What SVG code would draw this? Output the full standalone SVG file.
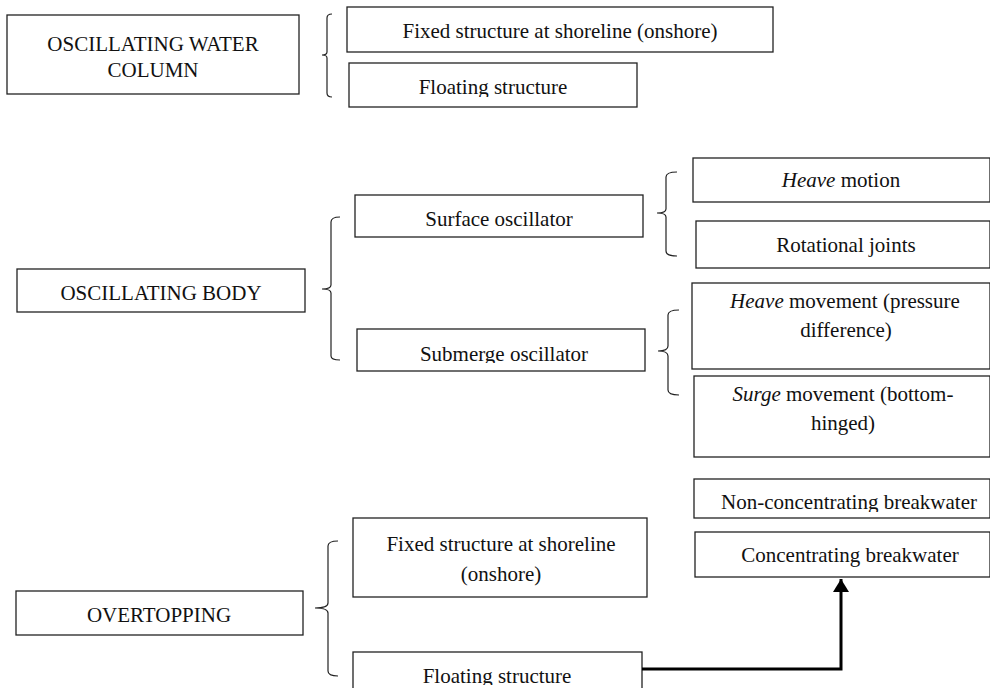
<svg xmlns="http://www.w3.org/2000/svg" width="990" height="688" viewBox="0 0 990 688">
<style>
.box{fill:#fff;stroke:#222;stroke-width:1.3}
.t{font-family:"Liberation Serif","Times New Roman",serif;font-size:21px;fill:#111;text-anchor:middle}
.brace{fill:none;stroke:#222;stroke-width:1.2}
.conn{fill:none;stroke:#000;stroke-width:3}
</style>
<defs>
<marker id="ah" markerUnits="userSpaceOnUse" markerWidth="16" markerHeight="16" refX="13" refY="8" orient="auto">
<path d="M0,0 L13,8 L0,16 Z" fill="#000"/>
</marker>
<clipPath id="c1"><rect x="349" y="63" width="288" height="34"/></clipPath>
<clipPath id="c2"><rect x="694" y="479" width="296" height="33"/></clipPath>
<clipPath id="c3"><rect x="357" y="329" width="288" height="34"/></clipPath>
<clipPath id="c4"><rect x="353" y="652" width="289" height="33"/></clipPath>
</defs>
<rect width="990" height="688" fill="#fff"/>

<g id="braces">
<path class="brace" d="M332,14 Q327,14 327,18 L327,52 Q327,55 322,55 Q327,55 327,58 L327,93 Q327,97 332,97"/>
<path class="brace" d="M340,217 Q331,217 331,222 L331,285 Q331,289 322,289 Q331,289 331,293 L331,356 Q331,360 340,360"/>
<path class="brace" d="M677,172 Q666,172 666,177 L666,209 Q666,213 657,213 Q666,213 666,217 L666,251 Q666,256 677,256"/>
<path class="brace" d="M679,310 Q668,310 668,315 L668,346 Q668,351 658,351 Q668,351 668,356 L668,390 Q668,395 679,395"/>
<path class="brace" d="M338,541 Q328,541 328,546 L328,603 Q328,608 315,608 Q328,608 328,613 L328,671 Q328,676 338,676"/>
</g>

<g id="owc">
<rect class="box" x="7" y="15" width="292" height="79"/>
<text class="t" x="153" y="51">OSCILLATING WATER</text>
<text class="t" x="153" y="77">COLUMN</text>
</g>
<g id="owc-fixed">
<rect class="box" x="347" y="7" width="426" height="45"/>
<text class="t" x="560" y="38">Fixed structure at shoreline (onshore)</text>
</g>
<g id="owc-floating">
<rect class="box" x="349" y="63" width="288" height="44"/>
<text class="t" x="493" y="94" clip-path="url(#c1)">Floating structure</text>
</g>

<g id="ob">
<rect class="box" x="17" y="269" width="288" height="43"/>
<text class="t" x="161" y="300">OSCILLATING BODY</text>
</g>
<g id="surface">
<rect class="box" x="355" y="195" width="288" height="42"/>
<text class="t" x="499" y="226">Surface oscillator</text>
</g>
<g id="heave-motion">
<rect class="box" x="693" y="158" width="297" height="44"/>
<text class="t" x="841" y="187"><tspan font-style="italic">Heave</tspan> motion</text>
</g>
<g id="rotational">
<rect class="box" x="696" y="221" width="294" height="47"/>
<text class="t" x="846" y="252">Rotational joints</text>
</g>
<g id="submerge">
<rect class="box" x="357" y="329" width="288" height="42"/>
<text class="t" x="504" y="361" clip-path="url(#c3)">Submerge oscillator</text>
</g>
<g id="heave-movement">
<rect class="box" x="692" y="283" width="298" height="86"/>
<text class="t" x="845" y="308"><tspan font-style="italic">Heave</tspan> movement (pressure</text>
<text class="t" x="846" y="337">difference)</text>
</g>
<g id="surge">
<rect class="box" x="694" y="376" width="296" height="81"/>
<text class="t" x="843" y="401"><tspan font-style="italic">Surge</tspan> movement (bottom-</text>
<text class="t" x="843" y="430">hinged)</text>
</g>

<g id="overtopping">
<rect class="box" x="16" y="591" width="287" height="44"/>
<text class="t" x="159" y="622">OVERTOPPING</text>
</g>
<g id="ot-fixed">
<rect class="box" x="353" y="518" width="294" height="79"/>
<text class="t" x="501" y="551">Fixed structure at shoreline</text>
<text class="t" x="501" y="581">(onshore)</text>
</g>
<g id="ot-floating">
<rect class="box" x="353" y="652" width="289" height="50"/>
<text class="t" x="497" y="683" clip-path="url(#c4)">Floating structure</text>
</g>
<g id="non-conc">
<rect class="box" x="694" y="479" width="296" height="39"/>
<text class="t" x="849" y="509" clip-path="url(#c2)">Non-concentrating breakwater</text>
</g>
<g id="conc">
<rect class="box" x="695" y="532" width="295" height="45"/>
<text class="t" x="850" y="562">Concentrating breakwater</text>
</g>

<g id="connectors">
<path class="conn" d="M642,669 H841 V579" marker-end="url(#ah)"/>
</g>
</svg>
